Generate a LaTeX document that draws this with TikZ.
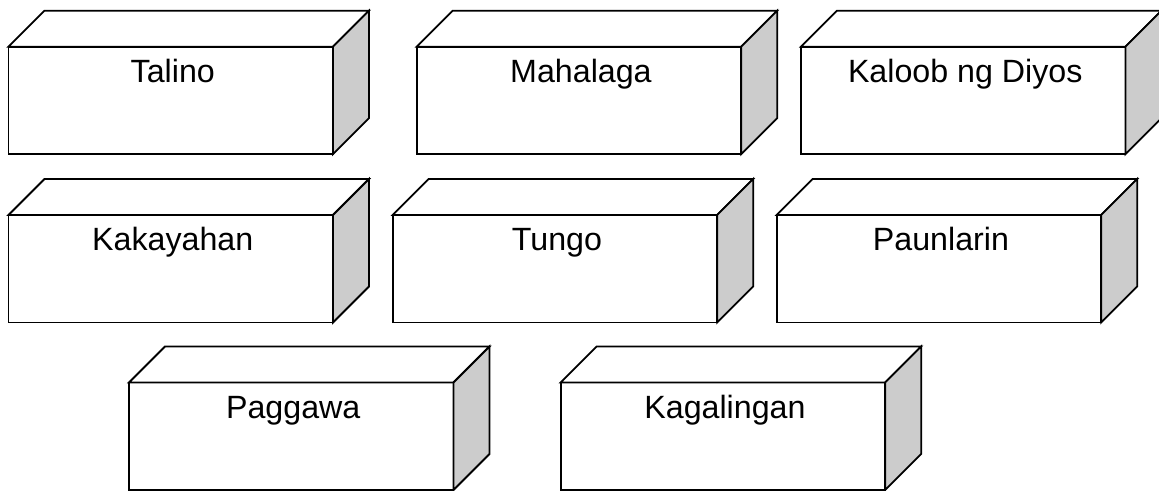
\documentclass[tikz,border=0pt]{standalone}
\usepackage{fontspec}
\setmainfont{Liberation Sans}
\usetikzlibrary{calc}

\tikzset{
  facefront/.style={draw=black, fill=white, line width=1.8bp, rectangle,
    minimum width=324.5bp, minimum height=107.5bp, inner sep=0pt, outer sep=0pt,
    anchor=north west},
  facetop/.style={draw=black, fill=white, line width=1.8bp, line join=miter},
  faceside/.style={draw=black, fill=black!20, line width=1.8bp, line join=miter},
  lbl/.style={font=\fontsize{32.2bp}{38bp}\selectfont, anchor=base, inner sep=0pt}
}

% A cuboid block: name, front-face top-left x, y, caption
\newcommand\cuboidblock[4]{%
  \node[facefront] (#1) at (#2,#3) {};
  \draw[facetop] (#1.north west) -- ++(36,-36)
     -- ($(#1.north east)+(36,-36)$) -- (#1.north east) -- cycle;
  \draw[faceside] (#1.north east) -- ++(36,-36)
     -- ($(#1.south east)+(36,-36)$) -- (#1.south east) -- cycle;
  \node[lbl] (#1-text) at ($(#1.north)+(2,35.5)$) {#4};
}

\begin{document}
\begin{tikzpicture}[x=1bp, y=-1bp]
  \useasboundingbox (0,0) rectangle (1159,491);

  \cuboidblock{talino}{8.5}{46.7}{Talino}
  \cuboidblock{mahalaga}{416.7}{46.7}{Mahalaga}
  \cuboidblock{kaloob}{801}{46.7}{Kaloob ng Diyos}

  \cuboidblock{kakayahan}{8.5}{215}{Kakayahan}
  \cuboidblock{tungo}{392.7}{215}{Tungo}
  \cuboidblock{paunlarin}{776.7}{215}{Paunlarin}

  \cuboidblock{paggawa}{129}{382.5}{Paggawa}
  \cuboidblock{kagalingan}{560.7}{382.5}{Kagalingan}
\end{tikzpicture}
\end{document}
